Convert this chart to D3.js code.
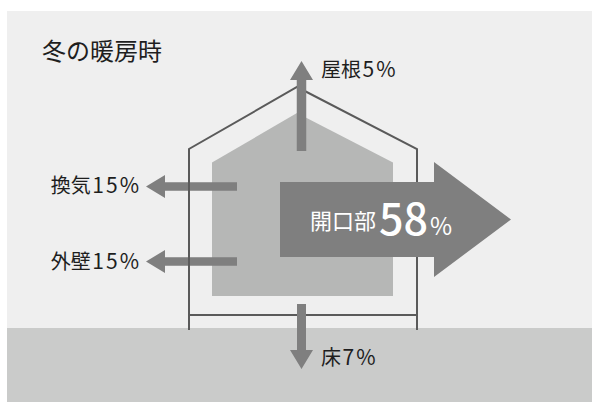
<!DOCTYPE html>
<html>
<head>
<meta charset="utf-8">
<script src="https://cdn.jsdelivr.net/npm/d3@7"></script>
<style>
  html, body { margin: 0; padding: 0; background: #ffffff; }
  svg { display: block; }
  text { font-family: "Noto Sans CJK JP", "Noto Sans", sans-serif; }
</style>
</head>
<body>
<svg id="chart" width="592" height="402"></svg>
<script>
// Heat loss share by building part during winter heating
const title = "冬の暖房時";
const parts = ["屋根", "換気", "外壁", "開口部", "床"];
const shares = [5, 15, 15, 58, 7];
const unit = "%";

const svg = d3.select("#chart");

const W = 592, H = 402;
const panel = { x: 7, y: 11 };
const groundTop = 328;

// background panel and ground band
svg.append("rect").attr("x", panel.x).attr("y", panel.y)
  .attr("width", W - panel.x).attr("height", H - panel.y).attr("fill", "#efefef");
svg.append("rect").attr("x", panel.x).attr("y", groundTop)
  .attr("width", W - panel.x).attr("height", H - groundTop).attr("fill", "#cacbca");

// house geometry
const house = { left: 189, right: 417, eave: 149, peakX: 297, peakY: 87, floor: 315, base: 330 };
const room = { left: 212, right: 393, shoulder: 162.5, peakY: 113, bottom: 296 };

const line = d3.line();

// heated interior
svg.append("path")
  .attr("d", line([[room.left, room.bottom], [room.left, room.shoulder], [house.peakX, room.peakY],
                   [room.right, room.shoulder], [room.right, room.bottom]]) + "Z")
  .attr("fill", "#b6b7b6");

// arrow polygon from tail to tip
function arrowPath(tail, tip, shaft, headW, headL) {
  const dx = tip[0] - tail[0], dy = tip[1] - tail[1];
  const len = Math.hypot(dx, dy);
  const ux = dx / len, uy = dy / len, nx = -uy, ny = ux;
  const bx = tip[0] - ux * headL, by = tip[1] - uy * headL;
  const p = (x, y, s) => [x + nx * s, y + ny * s];
  return line([
    p(tail[0], tail[1], shaft / 2), p(bx, by, shaft / 2), p(bx, by, headW / 2),
    tip,
    p(bx, by, -headW / 2), p(bx, by, -shaft / 2), p(tail[0], tail[1], -shaft / 2)
  ]) + "Z";
}

// arrow placement for each building part
const arrowLayout = {
  "屋根":  { tail: [301.5, 151], tip: [301.5, 61], shaft: 9.5, headW: 23, headL: 19, layer: "top" },
  "換気":  { tail: [237, 186.5], tip: [146, 186.5], shaft: 8.5, headW: 23, headL: 19, layer: "under" },
  "外壁":  { tail: [237, 261.5], tip: [146, 261.5], shaft: 8.5, headW: 23, headL: 19, layer: "under" },
  "開口部": { tail: [280, 219.5], tip: [511, 219.5], shaft: 75, headW: 115, headL: 77, layer: "top" },
  "床":    { tail: [301.5, 304], tip: [301.5, 369], shaft: 9, headW: 23, headL: 19, layer: "top" }
};

const items = parts.map((p, i) => ({ part: p, share: shares[i], ...arrowLayout[p] }));

const underLayer = svg.append("g");
const outlineLayer = svg.append("g");
const topLayer = svg.append("g");

function drawArrows(g, data) {
  g.selectAll("path").data(data).join("path")
    .attr("d", d => arrowPath(d.tail, d.tip, d.shaft, d.headW, d.headL))
    .attr("fill", "#7f7f7f");
}
drawArrows(underLayer, items.filter(d => d.layer === "under"));

// house outline
outlineLayer.append("path")
  .attr("d", line([[house.left, house.base], [house.left, house.eave], [house.peakX, house.peakY],
                   [house.right, house.eave], [house.right, house.base]]))
  .attr("fill", "none").attr("stroke", "#5a5a5a").attr("stroke-width", 2);
outlineLayer.append("path")
  .attr("d", line([[house.left, house.floor], [house.right, house.floor]]))
  .attr("fill", "none").attr("stroke", "#5a5a5a").attr("stroke-width", 2);

drawArrows(topLayer, items.filter(d => d.layer === "top"));

// title
svg.append("text").attr("x", 42).attr("y", 60)
  .attr("font-size", 24).attr("fill", "#1e1e1e").text(title);

// small labels beside the arrows
const digitSpacing = 2;
const labelPos = {
  "屋根": { x: 321, y: 77, anchor: "start" },
  "換気": { x: 139 + digitSpacing, y: 193, anchor: "end" },
  "外壁": { x: 139 + digitSpacing, y: 269, anchor: "end" },
  "床":   { x: 321, y: 365, anchor: "start" }
};
const small = svg.append("g").attr("fill", "#1e1e1e").attr("font-size", 20);
items.filter(d => labelPos[d.part]).forEach(d => {
  const pos = labelPos[d.part];
  const t = small.append("text").attr("x", pos.x).attr("y", pos.y).attr("text-anchor", pos.anchor);
  t.append("tspan").text(d.part);
  t.append("tspan").attr("dx", 1.5).attr("font-size", 21).attr("letter-spacing", digitSpacing)
    .text(d.share + unit);
});

// main label inside the large arrow
const main = items.find(d => d.part === "開口部");
const big = svg.append("text").attr("x", 310).attr("y", 235).attr("fill", "#ffffff");
big.append("tspan").attr("font-size", 22).attr("dy", -6).text(main.part);
big.append("tspan").attr("font-size", 43).attr("font-weight", 500).attr("dx", 3).attr("dy", 6).text(main.share);
big.append("tspan").attr("font-size", 24).attr("dx", 2).text(unit);
</script>
</body>
</html>
